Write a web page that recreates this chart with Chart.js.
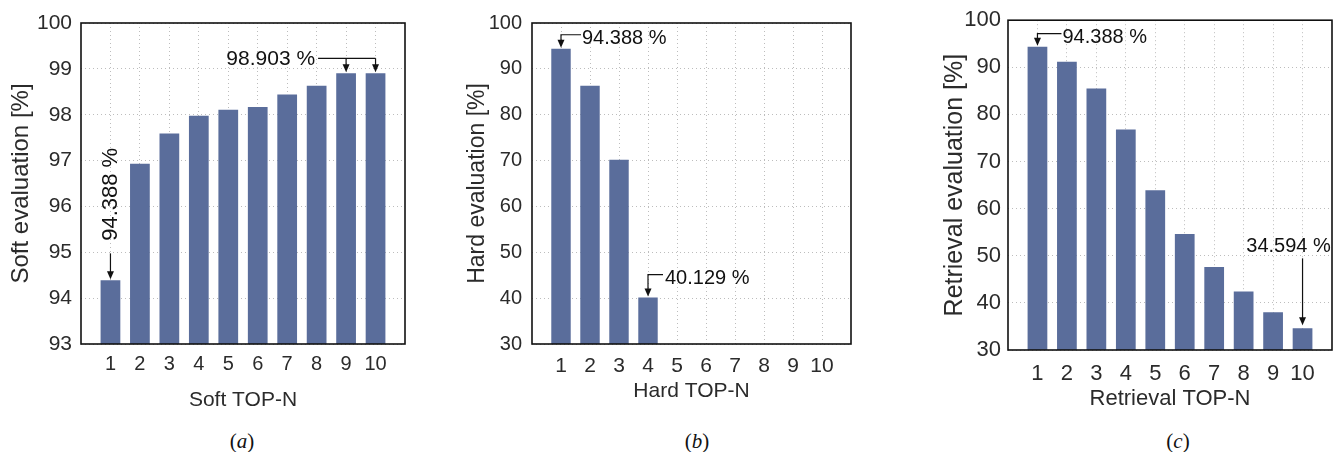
<!DOCTYPE html>
<html><head><meta charset="utf-8">
<script src="https://cdn.jsdelivr.net/npm/chart.js@4.4.0/dist/chart.umd.min.js"></script>
<style>
html,body{margin:0;padding:0;background:#fff;width:1336px;height:452px;overflow:hidden;position:relative;}
canvas{position:absolute;top:0;}
.cap{position:absolute;top:429px;line-height:24px;font-family:"Liberation Serif","Times New Roman",serif;font-size:21px;color:#111;transform:translateX(-50%);white-space:nowrap;}
.cap i{font-style:italic;}
</style></head><body>
<canvas id="ca" width="420" height="420" style="left:0px"></canvas>
<canvas id="cb" width="440" height="420" style="left:440px"></canvas>
<canvas id="cc" width="436" height="420" style="left:900px"></canvas>
<div class="cap" style="left:242px">(<i>a</i>)</div>
<div class="cap" style="left:697px">(<i>b</i>)</div>
<div class="cap" style="left:1178px">(<i>c</i>)</div>
<script>
// ---- data ----
const topN = [1, 2, 3, 4, 5, 6, 7, 8, 9, 10];
const softValues = [94.388, 96.93, 97.59, 97.98, 98.11, 98.17, 98.44, 98.63, 98.903, 98.903];
const hardValues = [94.388, 86.3, 70.2, 40.129, null, null, null, null, null, null];
const retrievalValues = [94.388, 91.2, 85.5, 76.8, 63.9, 54.6, 47.6, 42.4, 38.0, 34.594];
const softTicks = [93, 94, 95, 96, 97, 98, 99, 100];
const percentTicks = [30, 40, 50, 60, 70, 80, 90, 100];
const softTitleX = 'Soft TOP-N', softTitleY = 'Soft evaluation [%]';
const hardTitleX = 'Hard TOP-N', hardTitleY = 'Hard evaluation [%]';
const retTitleX = 'Retrieval TOP-N', retTitleY = 'Retrieval evaluation [%]';

// ---- style ----
const FONT = '"Liberation Sans", Arial, Helvetica, sans-serif';
const TXT = '#2b2b2b';
const BAR = '#5a6d9b';
const GRID = '#bdbdbd';

function arrowHead(ctx, x, y) {
  ctx.beginPath();
  ctx.moveTo(x, y);
  ctx.lineTo(x - 3.5, y - 8);
  ctx.lineTo(x + 3.5, y - 8);
  ctx.closePath();
  ctx.fill();
}

const annotPlugin = {
  id: 'annot',
  afterDatasetsDraw(chart, args, opts) {
    const {ctx, chartArea: a, scales: {x, y}} = chart;
    ctx.save();
    ctx.strokeStyle = '#111';
    ctx.lineWidth = 1.6;
    ctx.strokeRect(a.left, a.top, a.right - a.left, a.bottom - a.top);
    ctx.fillStyle = '#111';
    ctx.strokeStyle = '#111';
    ctx.lineWidth = 1.2;
    if (opts.draw) opts.draw(ctx, x, y);
    ctx.restore();
  }
};

function makeChart(id, values, ticks, tx, ty, cfg) {
  const data = topN.map((c, i) => ({x: c, y: values[i]}));
  return new Chart(document.getElementById(id), {
    type: 'bar',
    data: {datasets: [{data, backgroundColor: BAR, borderWidth: 0, barPercentage: 0.67, categoryPercentage: 1}]},
    options: {
      responsive: false, animation: false, devicePixelRatio: 1,
      layout: {padding: cfg.pad},
      plugins: {legend: {display: false}, tooltip: {enabled: false}, annot: {draw: cfg.draw}},
      scales: {
        x: {
          type: 'linear', min: 0, max: 11, offset: false,
          afterBuildTicks: s => { s.ticks = topN.map(v => ({value: v})); },
          afterFit: s => { s.height = cfg.xh; },
          ticks: {autoSkip: false, maxRotation: 0, padding: cfg.xtp, color: TXT, font: {family: FONT, size: cfg.xts}},
          grid: {offset: false, color: GRID, lineWidth: 1, drawTicks: false},
          border: {display: false, dash: [1, 3]},
          title: {display: true, text: tx, color: TXT, padding: {top: 0, bottom: cfg.xtt}, font: {family: FONT, size: cfg.xtf}}
        },
        y: {
          min: ticks[0], max: ticks[ticks.length - 1],
          afterBuildTicks: s => { s.ticks = ticks.map(v => ({value: v})); },
          afterFit: s => { s.width = cfg.yw; },
          ticks: {padding: cfg.ytp, color: TXT, font: {family: FONT, size: cfg.yts}},
          grid: {color: GRID, lineWidth: 1, drawTicks: false},
          border: {display: false, dash: [1, 3]},
          title: {display: true, text: ty, color: TXT, padding: {top: cfg.ytt, bottom: 0}, font: {family: FONT, size: cfg.ytf}}
        }
      }
    },
    plugins: [annotPlugin]
  });
}

// (a)
makeChart('ca', softValues, softTicks, softTitleX, softTitleY, {
  pad: {top: 23, right: 15, left: 0, bottom: 0}, xh: 76, yw: 81,
  xtp: 8, xts: 20, xtt: 7, xtf: 21, ytp: 9, yts: 21, ytt: 7, ytf: 24,
  draw(ctx, x, y) {
    const x9 = x.getPixelForValue(topN[8]), x10 = x.getPixelForValue(topN[9]);
    const t = y.getPixelForValue(softValues[8]);
    const ly = t - 15;
    ctx.font = '21px ' + FONT; ctx.textAlign = 'right'; ctx.textBaseline = 'middle';
    ctx.fillText(softValues[8].toFixed(3) + ' %', x9 - 31, ly + 1);
    ctx.beginPath();
    ctx.moveTo(x9 - 28, ly); ctx.lineTo(x10, ly);
    ctx.moveTo(x9, ly); ctx.lineTo(x9, t - 6);
    ctx.moveTo(x10, ly); ctx.lineTo(x10, t - 6);
    ctx.stroke();
    arrowHead(ctx, x9, t - 1); arrowHead(ctx, x10, t - 1);
    const x1 = x.getPixelForValue(topN[0]), t1 = y.getPixelForValue(softValues[0]);
    ctx.save();
    ctx.translate(x1, t1 - 86);
    ctx.rotate(-Math.PI / 2);
    ctx.font = '22px ' + FONT; ctx.textAlign = 'center'; ctx.textBaseline = 'middle';
    ctx.fillText(softValues[0].toFixed(3) + ' %', 0, 0);
    ctx.restore();
    ctx.beginPath(); ctx.moveTo(x1, t1 - 27); ctx.lineTo(x1, t1 - 6); ctx.stroke();
    arrowHead(ctx, x1, t1 - 1);
  }
});

function elbow(ctx, bx, top, dx, dy, label, size, tdx) {
  const ly = top - dy;
  ctx.beginPath();
  ctx.moveTo(bx + dx, ly); ctx.lineTo(bx, ly); ctx.lineTo(bx, top - 6);
  ctx.stroke();
  arrowHead(ctx, bx, top - 1);
  ctx.font = size + 'px ' + FONT; ctx.textAlign = 'left'; ctx.textBaseline = 'middle';
  ctx.fillText(label, bx + tdx, ly + 4);
}

// (b)
makeChart('cb', hardValues, percentTicks, hardTitleX, hardTitleY, {
  pad: {top: 23, right: 29, left: 0, bottom: 0}, xh: 76, yw: 92,
  xtp: 10, xts: 21, xtt: 16, xtf: 21, ytp: 10, yts: 20, ytt: 24, ytf: 23,
  draw(ctx, x, y) {
    elbow(ctx, x.getPixelForValue(topN[0]), y.getPixelForValue(hardValues[0]), 20, 14, hardValues[0].toFixed(3) + ' %', 20, 21);
    elbow(ctx, x.getPixelForValue(topN[3]), y.getPixelForValue(hardValues[3]), 15, 23, hardValues[3].toFixed(3) + ' %', 20, 17);
  }
});

// (c)
makeChart('cc', retrievalValues, percentTicks, retTitleX, retTitleY, {
  pad: {top: 20, right: 4, left: 0, bottom: 0}, xh: 70, yw: 108,
  xtp: 11, xts: 22, xtt: 8, xtf: 22, ytp: 7, yts: 22, ytt: 40, ytf: 25,
  draw(ctx, x, y) {
    elbow(ctx, x.getPixelForValue(topN[0]), y.getPixelForValue(retrievalValues[0]), 24, 13, retrievalValues[0].toFixed(3) + ' %', 20, 25);
    const x10 = x.getPixelForValue(topN[9]), t = y.getPixelForValue(retrievalValues[9]);
    ctx.beginPath(); ctx.moveTo(x10, t - 70); ctx.lineTo(x10, t - 8); ctx.stroke();
    arrowHead(ctx, x10, t - 3);
    ctx.font = '20px ' + FONT; ctx.textAlign = 'center'; ctx.textBaseline = 'middle';
    ctx.fillText(retrievalValues[9].toFixed(3) + ' %', x10 - 14, t - 82);
  }
});
</script>
</body></html>
